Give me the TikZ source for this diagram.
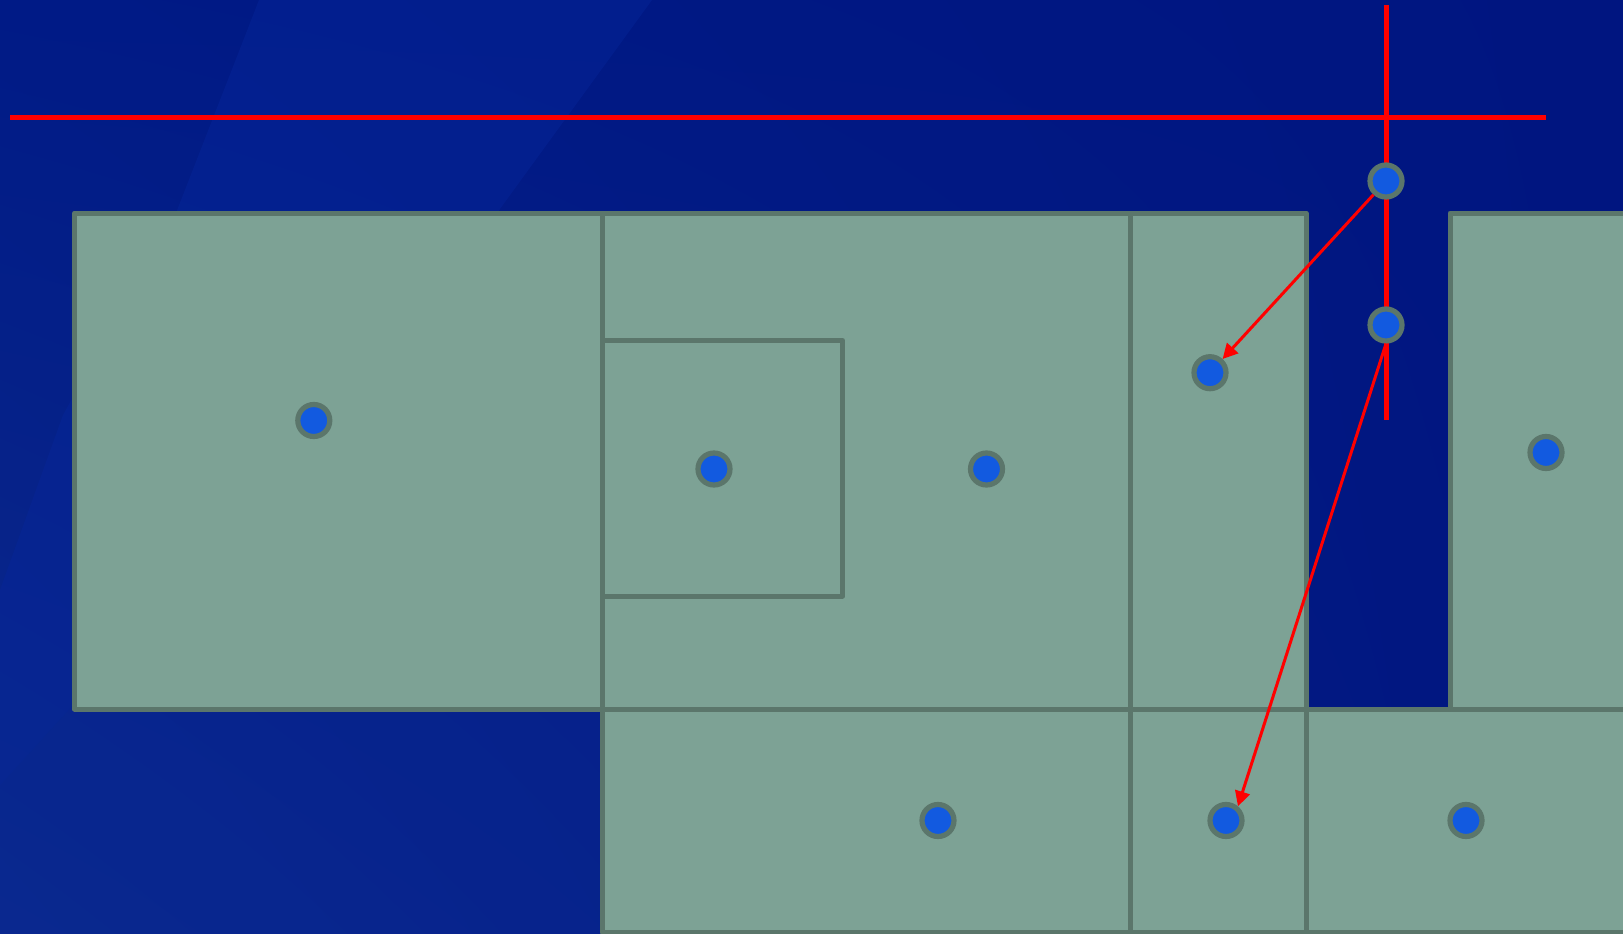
\documentclass[tikz,border=0pt]{standalone}
\usetikzlibrary{arrows.meta,shadings}
\definecolor{bgUL}{HTML}{001A86}
\definecolor{bgUR}{HTML}{001580}
\definecolor{bgLL}{HTML}{0C2A8C}
\definecolor{bgLR}{HTML}{001580}
\definecolor{bandc}{HTML}{06269A}
\definecolor{roomfill}{HTML}{7DA295}
\definecolor{roomline}{HTML}{5B766B}
\definecolor{dotfill}{HTML}{125AE0}
\tikzset{
  room/.style={fill=roomfill,draw=roomline,line width=5pt,line join=round},
  dot/.style={circle,fill=dotfill,draw=roomline,line width=5.2pt,minimum size=32pt,inner sep=0pt,outer sep=2.6pt},
  redline/.style={draw=red,line width=4.2pt},
  redarrow/.style={draw=red,line width=3pt,-{Triangle[length=15pt,width=15pt]}}
}
\begin{document}
\begin{tikzpicture}[x=1pt,y=-1pt]
\useasboundingbox (0,0) rectangle (1623,934);
\begin{scope}
\clip (0,0) rectangle (1623,934);
% background
\shade[upper left=bgUL,upper right=bgUR,lower left=bgLL,lower right=bgLR] (0,0) rectangle (1623,934);
\fill[bandc,opacity=.45] (259,0) -- (652,0) -- (497,213) -- (300,480) -- (75,703) -- (0,785) -- (0,590) -- (63,415) -- (176,213) -- cycle;
\fill[bandc,opacity=.25] (0,785) -- (75,703) -- (602,703) -- (602,934) -- (0,934) -- cycle;
% rooms
\draw[room] (74.5,213) rectangle (602,709);
\draw[room] (602,213) rectangle (1130,709);
\draw[room] (1130,213) rectangle (1306,709);
\draw[room] (602,340.5) rectangle (842.5,596);
\draw[room] (1450,213) rectangle (1640,709);
\draw[room] (602,709) rectangle (1130,932);
\draw[room] (1130,709) rectangle (1306,932);
\draw[room] (1306,709) rectangle (1640,932);
\end{scope}
% red lines
\coordinate (hA) at (10,117.5);
\coordinate (hB) at (1546,117.5);
\coordinate (vA) at (1386.5,5);
\coordinate (vB) at (1386.5,420);
\draw[redline] (hA) -- (hB);
\draw[redline] (vA) -- (vB);
% points
\node[dot] (p1) at (313.8,420.5) {};
\node[dot] (p2) at (714,469) {};
\node[dot] (p3) at (986.5,469) {};
\node[dot] (p4) at (1210,372.7) {};
\node[dot] (p5) at (1546,452.5) {};
\node[dot] (p6) at (938,820.5) {};
\node[dot] (p7) at (1226,820.5) {};
\node[dot] (p8) at (1466,820.5) {};
\node[dot] (s1) at (1386,181) {};
\node[dot] (s2) at (1386,325) {};
% arrows
\draw[redarrow] (s1) -- (p4);
\draw[redarrow] (s2.south) -- (p7.50);
\end{tikzpicture}
\end{document}
